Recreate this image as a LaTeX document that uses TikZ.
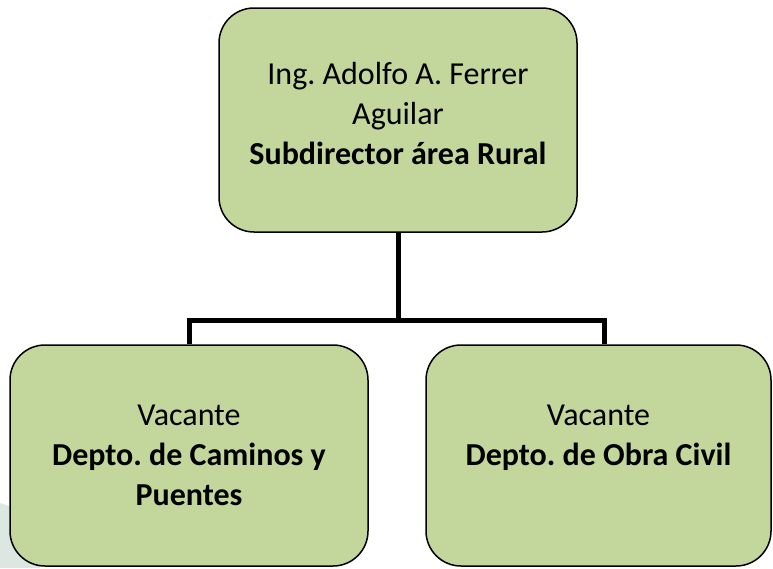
\documentclass[tikz,border=0pt]{standalone}
\usepackage{fontspec}
\setmainfont{Carlito}
\definecolor{boxgreen}{HTML}{C3D69B}
\definecolor{faint}{HTML}{DDE7E1}
\begin{document}
\frenchspacing
\begin{tikzpicture}[x=1pt,y=-1pt,
  box/.style={draw=black, line width=1.5pt, fill=boxgreen, rounded corners=35pt,
    align=center, font=\fontsize{32}{40}\selectfont, inner sep=0pt},
  link/.style={line width=5pt, line join=miter}]
\useasboundingbox (0,0) rectangle (773,568);
\fill[white] (0,0) rectangle (773,568);
\fill[faint] (0,503) -- (40,516) -- (40,568) -- (0,568) -- cycle;
\node[box, minimum width=358pt, minimum height=224pt] (top) at (398,120)
  {Ing. Adolfo A. Ferrer\\Aguilar\\\textbf{Subdirector área Rural}\\[-26pt]\mbox{}};
\node[box, minimum width=358pt, minimum height=221pt] (left) at (189,455.5)
  {Vacante\\\textbf{Depto. de Caminos y}\\\textbf{Puentes}};
\node[box, minimum width=345pt, minimum height=221pt] (right) at (598.5,455.5)
  {Vacante\\\textbf{Depto. de Obra Civil}\\\textbf{\phantom{Puentes}}};
\coordinate (rtop) at ([xshift=6pt]right.north);
\draw[link] (left.north) -- ++(0,-24) coordinate (bar) -| (rtop);
\draw[link] (top.south) -- (top.south |- bar);
\end{tikzpicture}
\end{document}
